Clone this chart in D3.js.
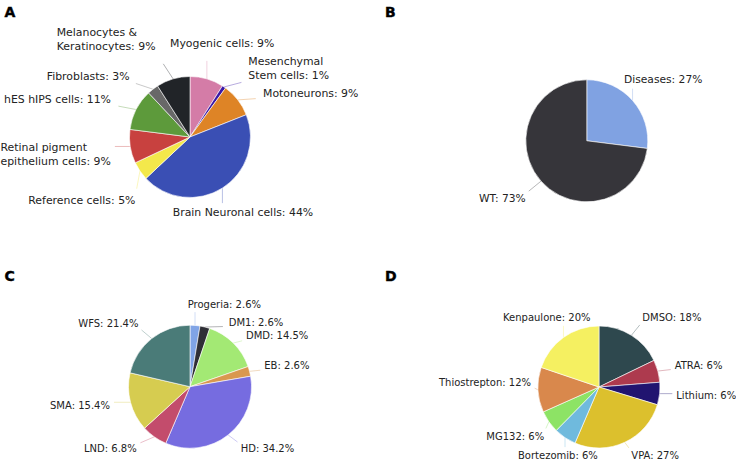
<!DOCTYPE html>
<html><head><meta charset="utf-8">
<script src="https://cdn.jsdelivr.net/npm/d3@7"></script>
<style>body{margin:0;background:#fff}svg{display:block}</style>
</head><body>
<svg id="chart" width="736" height="460"></svg>
<script>
// ---------- DATA ----------
const cellCategories = ["Myogenic cells", "Mesenchymal\nStem cells", "Motoneurons", "Brain Neuronal cells",
  "Reference cells", "Retinal pigment\nepithelium cells", "hES hIPS cells", "Fibroblasts", "Melanocytes &\nKeratinocytes"];
const cellValues = [9, 1, 9, 44, 5, 9, 11, 3, 9];

const statusCategories = ["Diseases", "WT"];
const statusValues = [27, 73];

const diseaseCategories = ["Progeria", "DM1", "DMD", "EB", "HD", "LND", "SMA", "WFS"];
const diseaseValues = [2.6, 2.6, 14.5, 2.6, 34.2, 6.8, 15.4, 21.4];

const drugCategories = ["DMSO", "ATRA", "Lithium", "VPA", "Bortezomib", "MG132", "Thiostrepton", "Kenpaulone"];
const drugValues = [18, 6, 6, 27, 6, 6, 12, 20];

// ---------- STYLE / LAYOUT ----------
const cellColors = ["#d47ca7", "#3a18a6", "#de8426", "#3a4fb4", "#f3e84b", "#c8413f", "#5d9a3b", "#686868", "#212428"];
const statusColors = ["#80a2e2", "#36353a"];
const diseaseColors = ["#80a4e6", "#2f2f36", "#a3e974", "#d9984f", "#766ce0", "#c34c6c", "#d6cc50", "#4a7b78"];
const drugColors = ["#2e484e", "#ad3a4e", "#211470", "#dcc02d", "#6fbadd", "#8de365", "#d9884c", "#f5f061"];

// label offsets (left edge x, vertical centre of first line) relative to pie centre
const cellLabelPos = [[-20, -94], [58.3, -76], [73, -44.3], [-17.3, 74.7], [-161.7, 63], [-189.5, 9.7], [-186, -37.7], [-143.3, -61], [-133.3, -104.7]];
const statusLabelPos = [[37.2, -61.5], [-107.8, 57.5]];
const diseaseLabelPos = [[-2.3, -82.7], [38.7, -64.4], [56, -51], [74.3, -21], [50.7, 61.6], [-106, 61.6], [-140, 18.3], [-111.7, -63.4]];
const drugLabelPos = [[43.3, -69.3], [75.7, -22], [77.3, 8.7], [32.3, 68], [-81, 68], [-112.7, 49], [-160, -4.7], [-96, -69.3]];

const panels = [
  {letter: "A", lx: 4.5, ly: 17, cx: 190, cy: 137, r: 60.5, fs: 10.9, lh: 14.2, dec: 0,
   cats: cellCategories, vals: cellValues, colors: cellColors, pos: cellLabelPos},
  {letter: "B", lx: 385, ly: 16.5, cx: 586.8, cy: 140.8, r: 61, fs: 10.7, lh: 14, dec: 0,
   cats: statusCategories, vals: statusValues, colors: statusColors, pos: statusLabelPos},
  {letter: "C", lx: 4.5, ly: 280.5, cx: 190, cy: 386.7, r: 61.5, fs: 10, lh: 13, dec: 1,
   cats: diseaseCategories, vals: diseaseValues, colors: diseaseColors, pos: diseaseLabelPos},
  {letter: "D", lx: 385, ly: 280.5, cx: 599, cy: 387, r: 61, fs: 10, lh: 13, dec: 0,
   cats: drugCategories, vals: drugValues, colors: drugColors, pos: drugLabelPos}
];

const svg = d3.select("#chart");
const textColor = "#232323";

panels.forEach(p => {
  svg.append("text")
    .attr("x", p.lx).attr("y", p.ly)
    .attr("font-family", "DejaVu Sans").attr("font-weight", "bold")
    .attr("font-size", 14).attr("fill", "#000")
    .attr("stroke", "#000").attr("stroke-width", 0.4)
    .text(p.letter);

  const g = svg.append("g").attr("transform", `translate(${p.cx},${p.cy})`);
  const color = d3.scaleOrdinal().domain(p.cats).range(p.colors);
  const pie = d3.pie().sort(null).value(d => d.v);
  const data = p.cats.map((c, i) => ({c, v: p.vals[i], i}));
  const arcs = pie(data);
  const total = d3.sum(p.vals);
  const arc = d3.arc().innerRadius(0).outerRadius(p.r);

  g.selectAll("path.slice").data(arcs).join("path")
    .attr("class", "slice")
    .attr("d", arc)
    .attr("fill", d => color(d.data.c))
    .attr("stroke", "#fff").attr("stroke-width", 0.6);

  const labelsG = svg.append("g");
  const linesG = svg.insert("g", ":first-child");

  arcs.forEach(a => {
    const pct = (a.data.v / total * 100).toFixed(p.dec) + "%";
    const lines = (a.data.c + ": " + pct).split("\n");
    const [ox, oy] = p.pos[a.data.i];
    const t = labelsG.append("text")
      .attr("font-family", "DejaVu Sans")
      .attr("font-size", p.fs)
      .attr("fill", textColor);
    lines.forEach((ln, k) => {
      t.append("tspan")
        .attr("x", p.cx + ox)
        .attr("y", p.cy + oy + k * p.lh + p.fs * 0.36)
        .text(ln);
    });
    // leader line: from pie edge at mid-angle toward label box
    const mid = (a.startAngle + a.endAngle) / 2;
    const px = p.cx + Math.sin(mid) * p.r;
    const py = p.cy - Math.cos(mid) * p.r;
    const bb = t.node().getBBox();
    const y0 = bb.y + 1.5, y1 = bb.y + bb.height - 1.5;
    const qx = Math.max(bb.x, Math.min(bb.x + bb.width, px));
    const qy = Math.max(y0, Math.min(y1, py));
    const vx = qx - px, vy = qy - py;
    const d = Math.hypot(vx, vy);
    let len = Math.min(d - 4, 18);
    if (len > 3) {
      const ex = px + vx / d * len, ey = py + vy / d * len;
      linesG.append("line")
        .attr("x1", px).attr("y1", py).attr("x2", ex).attr("y2", ey)
        .attr("stroke", d3.interpolateRgb(color(a.data.c), "#ffffff")(0.55))
        .attr("stroke-width", 0.8);
    }
  });
});
</script>
</body></html>
